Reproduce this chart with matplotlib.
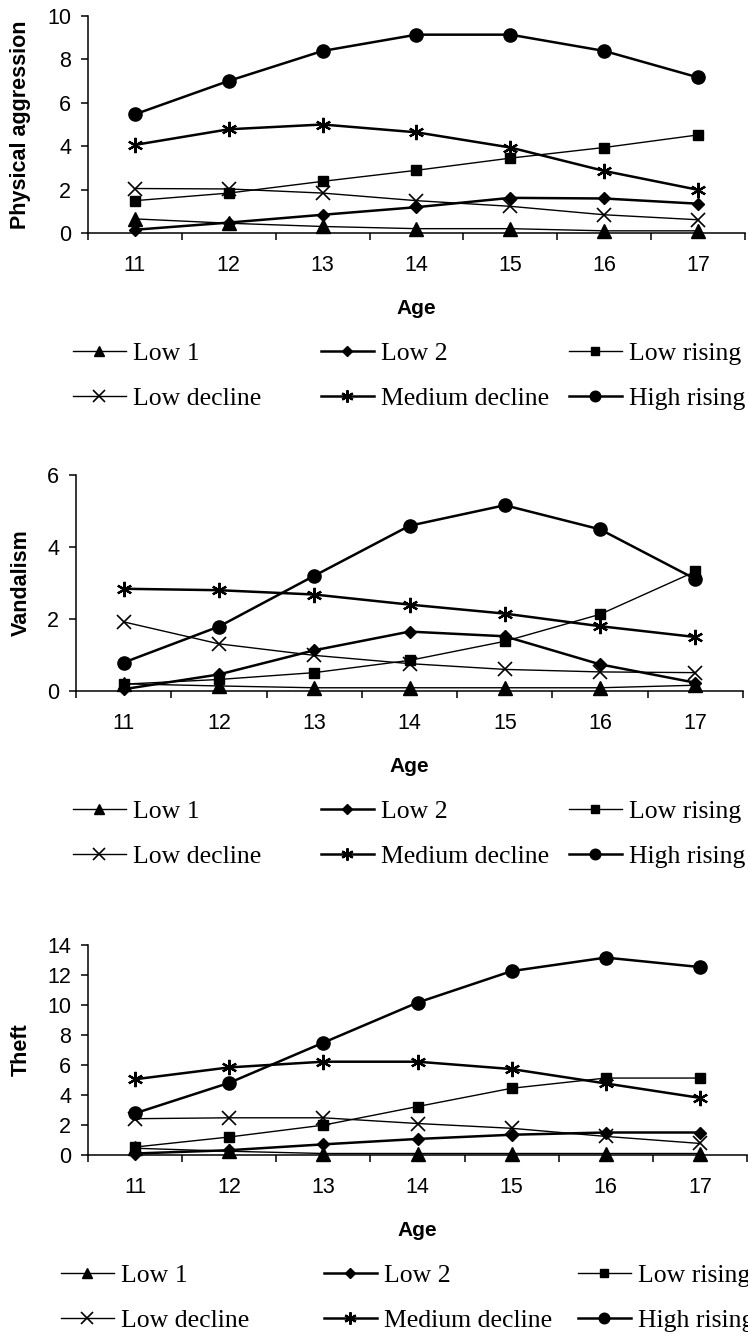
import matplotlib
matplotlib.use("Agg")
import matplotlib.pyplot as plt
from matplotlib import font_manager

ages = [11, 12, 13, 14, 15, 16, 17]
groups = ["Low 1", "Low 2", "Low rising", "Low decline", "Medium decline", "High rising"]

# physical aggression
pa_low1 = [0.65, 0.45, 0.3, 0.2, 0.2, 0.1, 0.1]
pa_low2 = [0.15, 0.48, 0.84, 1.19, 1.62, 1.59, 1.35]
pa_lowrising = [1.49, 1.84, 2.38, 2.89, 3.45, 3.94, 4.52]
pa_lowdecline = [2.05, 2.03, 1.84, 1.49, 1.23, 0.84, 0.61]
pa_meddecline = [4.06, 4.78, 5.0, 4.64, 3.94, 2.86, 1.99]
pa_highrising = [5.47, 7.01, 8.39, 9.14, 9.14, 8.39, 7.17]

# vandalism
va_low1 = [0.2, 0.14, 0.09, 0.09, 0.09, 0.09, 0.16]
va_low2 = [0.05, 0.46, 1.13, 1.65, 1.52, 0.74, 0.23]
va_lowrising = [0.19, 0.32, 0.51, 0.85, 1.38, 2.13, 3.32]
va_lowdecline = [1.92, 1.31, 0.99, 0.76, 0.6, 0.53, 0.51]
va_meddecline = [2.84, 2.8, 2.68, 2.4, 2.15, 1.8, 1.5]
va_highrising = [0.79, 1.79, 3.2, 4.59, 5.16, 4.49, 3.11]

# theft
th_low1 = [0.45, 0.25, 0.1, 0.1, 0.1, 0.1, 0.1]
th_low2 = [0.1, 0.32, 0.71, 1.07, 1.35, 1.5, 1.5]
th_lowrising = [0.53, 1.2, 1.99, 3.23, 4.45, 5.13, 5.13]
th_lowdecline = [2.42, 2.48, 2.48, 2.1, 1.78, 1.24, 0.77]
th_meddecline = [5.05, 5.84, 6.22, 6.22, 5.73, 4.77, 3.81]
th_highrising = [2.78, 4.81, 7.49, 10.16, 12.26, 13.16, 12.53]

available = {f.name for f in font_manager.fontManager.ttflist}
sans = "Liberation Sans Narrow" if "Liberation Sans Narrow" in available else "Liberation Sans"

# marker, size, line width, marker edge width
styles = [
    ("^", 9.5, 1.0, 1.0),
    ("D", 6.3, 1.8, 1.0),
    ("s", 7.5, 1.0, 1.0),
    ("x", 10, 1.0, 1.2),
    ((6, 2, 0), 11, 1.8, 1.6),
    ("o", 9.5, 1.8, 1.0),
]

panels = [
    ("Physical aggression", [pa_low1, pa_low2, pa_lowrising, pa_lowdecline, pa_meddecline, pa_highrising], 10,
     [88, 745, 16, 233], [100, 348, 596]),
    ("Vandalism", [va_low1, va_low2, va_lowrising, va_lowdecline, va_meddecline, va_highrising], 6,
     [76, 743, 475, 691], [100, 348, 596]),
    ("Theft", [th_low1, th_low2, th_lowrising, th_lowdecline, th_meddecline, th_highrising], 14,
     [88, 747, 945, 1155], [88, 351, 605]),
]

W, H = 748, 1336
fig = plt.figure(figsize=(W / 100, H / 100), dpi=100)

for ylabel, series, ymax, (x0, x1, y0, y1), leg_x in panels:
    ax = fig.add_axes([x0 / W, (H - y1) / H, (x1 - x0) / W, (y1 - y0) / H])
    handles = []
    for vals, (m, ms, lw, mew) in zip(series, styles):
        ln, = ax.plot(ages, vals, color="black", lw=lw, marker=m, ms=ms, mew=mew,
                      mfc="black", mec="black", clip_on=False)
        handles.append(ln)
    ax.set_xlim(10.5, 17.5)
    ax.set_ylim(0, ymax)
    ax.set_yticks(range(0, ymax + 1, 2))
    ax.set_xticks(ages)
    ax.set_xticks([a + 0.5 for a in [10] + ages], minor=True)
    for s in ["top", "right"]:
        ax.spines[s].set_visible(False)
    for s in ["left", "bottom"]:
        ax.spines[s].set_linewidth(1.1)
    ax.tick_params(axis="y", direction="out", length=5, width=1.1, pad=7)
    ax.tick_params(axis="x", which="major", length=0, pad=16)
    ax.tick_params(axis="x", which="minor", direction="out", length=5, width=1.1)
    for lab in ax.get_xticklabels() + ax.get_yticklabels():
        lab.set_fontfamily(sans)
        lab.set_fontsize(15.5)
    ax.set_ylabel(ylabel, fontsize=15.5, fontweight="bold", family="Liberation Sans")
    ax.yaxis.label.set_va("center")
    ax.yaxis.set_label_coords((21 - x0) / (x1 - x0), 0.5)
    ax.set_xlabel("Age", fontsize=15, fontweight="bold", family="Liberation Sans")
    ax.xaxis.label.set_va("center")
    ax.xaxis.set_label_coords(0.5, -(75 / (y1 - y0)))

    # legend, one block per column
    for c in range(3):
        hx = leg_x[c] - 27
        fig.legend([handles[c], handles[c + 3]], [groups[c], groups[c + 3]],
                   loc="center left", bbox_to_anchor=(hx / W, (H - (y1 + 143)) / H),
                   frameon=False, borderpad=0, borderaxespad=0, handlelength=2.05,
                   handletextpad=0.27, labelspacing=0.82, markerscale=0.8,
                   prop={"family": "Liberation Serif", "size": 18.5})

fig.savefig("out.png", dpi=100)
